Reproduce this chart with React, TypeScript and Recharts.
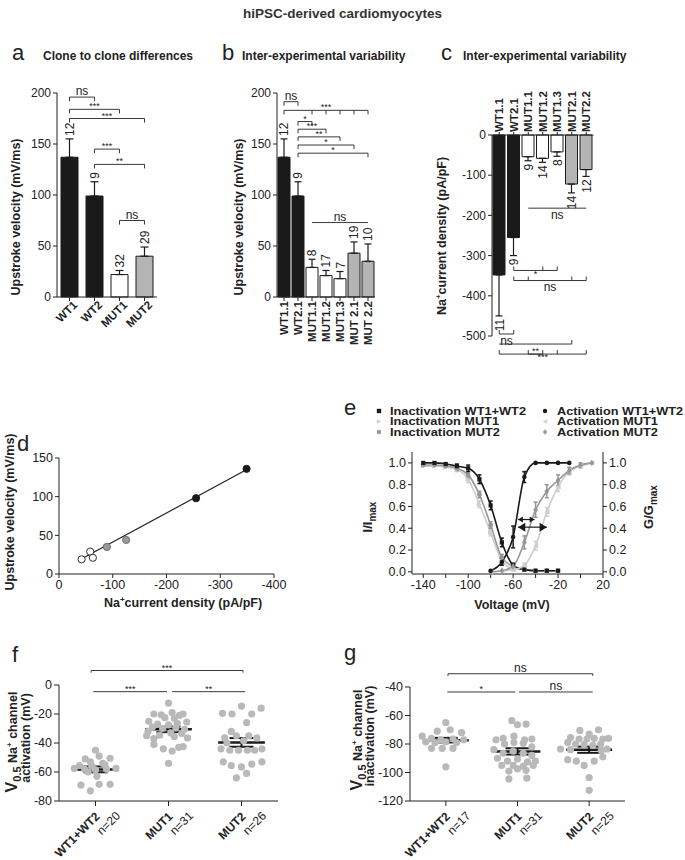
import React from 'react';
import {
  ComposedChart,
  Bar,
  Cell,
  ErrorBar,
  Line,
  Scatter,
  XAxis,
  YAxis,
  ReferenceLine,
} from 'recharts';

const FONT = '"Liberation Sans", Arial, Helvetica, sans-serif';
const INK = '#222222';
const BLACK = '#1a1a1a';
const GRAY = '#b4b4b4';
const LIGHT = '#cdcdcd';
const MID = '#969696';
const DOT = '#b9b9b9';

// a: clone to clone differences
const cloneNames = ['WT1', 'WT2', 'MUT1', 'MUT2'];
const cloneGroup = ['wt', 'wt', 'mut1', 'mut2'];
const cloneVel = [137, 99, 22, 40];
const cloneErr = [18, 14, 4, 9];
const cloneN = [12, 9, 32, 29];

// b + c: inter-experimental variability
const expNamesB = ['WT1.1', 'WT2.1', 'MUT1.1', 'MUT1.2', 'MUT1.3', 'MUT 2.1', 'MUT 2.2'];
const expNamesC = ['WT1.1', 'WT2.1', 'MUT1.1', 'MUT1.2', 'MUT1.3', 'MUT2.1', 'MUT2.2'];
const expGroup = ['wt', 'wt', 'mut1', 'mut1', 'mut1', 'mut2', 'mut2'];
const expVel = [137, 99, 29, 21, 18, 43, 35];
const expVelErr = [18, 14, 8, 5, 7, 11, 17];
const expVelN = [12, 9, 8, 17, 7, 19, 10];
const expIna = [-348, -255, -54, -58, -42, -122, -86];
const expInaErr = [102, 45, 10, 10, 11, 22, 17];
const expInaN = [11, 9, 9, 14, 8, 14, 12];

// d: correlation
const corrIna = [-349, -255, -58, -63, -42, -125, -89];
const corrVel = [136, 98, 29, 21, 19, 44, 35];
const fitIna = [-38, -352];
const fitVel = [18, 136];

// e: steady-state inactivation / activation
const volts = [-140, -130, -120, -110, -100, -90, -80, -70, -60, -50, -40, -30, -20, -10, 0, 10];
const inactWT = [1.0, 1.0, 0.99, 0.97, 0.95, 0.85, 0.61, 0.27, 0.06, 0.02, 0.01, 0.01, 0.01, null, null, null];
const inactMUT1 = [0.97, 0.97, 0.96, 0.94, 0.85, 0.62, 0.36, 0.1, 0.03, 0.02, 0.01, 0.01, 0.01, null, null, null];
const inactMUT2 = [0.98, 0.98, 0.97, 0.95, 0.89, 0.71, 0.43, 0.13, 0.05, 0.02, 0.01, 0.01, 0.01, null, null, null];
const actWT = [null, null, null, null, null, null, 0.01, 0.09, 0.32, 0.87, 1.0, 1.0, 1.0, 1.0, null, null];
const actMUT1 = [null, null, null, null, null, null, 0.0, 0.01, 0.02, 0.06, 0.24, 0.55, 0.78, 0.92, 0.97, 1.0];
const actMUT2 = [null, null, null, null, null, null, 0.0, 0.01, 0.05, 0.27, 0.57, 0.74, 0.84, 0.93, 0.98, 1.0];
const errInactWT = [0, 0, 0, 0.02, 0.03, 0.04, 0.04, 0.04, 0.02, 0, 0, 0, 0, 0, 0, 0];
const errInactMUT1 = [0, 0, 0, 0.02, 0.03, 0.03, 0.03, 0.03, 0.02, 0, 0, 0, 0, 0, 0, 0];
const errInactMUT2 = [0, 0, 0, 0.02, 0.03, 0.03, 0.03, 0.03, 0.02, 0, 0, 0, 0, 0, 0, 0];
const errActWT = [0, 0, 0, 0, 0, 0, 0, 0.03, 0.1, 0.05, 0, 0, 0, 0, 0, 0];
const errActMUT1 = [0, 0, 0, 0, 0, 0, 0, 0, 0.01, 0.02, 0.04, 0.04, 0.04, 0.03, 0.02, 0];
const errActMUT2 = [0, 0, 0, 0, 0, 0, 0, 0, 0.02, 0.06, 0.07, 0.06, 0.05, 0.03, 0.02, 0];
const voltTicks = [-140, -120, -100, -80, -60, -40, -20, 0, 20];
const voltLabels = [-140, -100, -60, -20, 20];
const shiftArrows = [
  { from: -55.6, to: -41, y: 0.48 },
  { from: -55.6, to: -30, y: 0.41 },
];

// f + g: V0.5 per cell, [jitter, value]
const groupNames = ['WT1+WT2', 'MUT1', 'MUT2'];
const actN = [20, 31, 26];
const inactN = [17, 31, 25];
const actWTCells = [[0.0, -45], [-0.14, -51], [0.05, -49], [0.2, -50.5], [-0.07, -53], [0.1, -54], [-0.22, -55.5], [-0.05, -56], [0.13, -55], [-0.29, -57.5], [-0.15, -58], [0.0, -58.5], [0.15, -58], [0.28, -57.5], [-0.1, -60], [0.02, -63], [-0.2, -69], [0.05, -68.5], [0.2, -68.5], [-0.07, -73]];
const actMUT1Cells = [[0.0, -12.5], [-0.2, -20], [-0.1, -20.5], [0.05, -19], [0.15, -21], [0.2, -20], [-0.05, -22.5], [0.08, -23], [-0.27, -25], [0.25, -25.5], [-0.15, -27], [0.0, -27.5], [0.12, -26.5], [-0.22, -29], [-0.08, -30], [0.1, -29.5], [0.22, -30.5], [-0.28, -32], [0.03, -33], [0.18, -33.5], [-0.12, -34.5], [0.08, -35.5], [-0.2, -37], [0.26, -36.5], [-0.2, -41], [0.2, -42.5], [-0.07, -44], [0.05, -45.5], [0.14, -43], [-0.3, -35], [0.0, -54]];
const actMUT2Cells = [[-0.26, -19.5], [-0.13, -20], [0.0, -14.5], [0.14, -20], [0.27, -16], [0.07, -26], [-0.14, -32], [-0.23, -36.5], [-0.07, -35], [0.1, -35], [0.21, -36.5], [0.03, -38.5], [-0.28, -44], [-0.16, -45], [-0.04, -45], [0.08, -45], [0.18, -45], [0.28, -44], [-0.25, -53], [-0.14, -55.5], [0.0, -56.5], [0.14, -54.5], [0.28, -53], [-0.07, -64], [0.07, -61], [-0.2, -40]];
const actMean = [-58.2, -30.6, -39.6];
const actSem = [2.0, 1.9, 3.0];
const inactWTCells = [[0.0, -65], [-0.12, -71], [0.06, -70], [0.22, -72], [-0.33, -74.5], [-0.2, -76], [-0.07, -77], [0.1, -76.5], [0.25, -77], [-0.28, -78.5], [-0.15, -79], [0.0, -78.5], [0.15, -79], [-0.2, -83], [-0.05, -83], [0.1, -83], [0.0, -96]];
const inactMUT1Cells = [[-0.08, -63.5], [0.0, -66.5], [0.12, -66], [-0.2, -76], [-0.05, -74.5], [0.1, -77], [0.2, -76.5], [-0.3, -77], [-0.18, -80], [-0.05, -79], [0.08, -79.5], [0.2, -82], [-0.33, -84], [-0.2, -86.5], [-0.06, -85], [0.08, -86.5], [0.2, -88], [-0.28, -90], [-0.14, -92], [0.0, -90.5], [0.14, -92.5], [0.25, -92], [-0.22, -95], [-0.06, -95], [0.08, -95.5], [0.22, -95], [-0.12, -99], [0.0, -97.5], [0.12, -98.5], [-0.12, -104.5], [0.13, -104]];
const inactMUT2Cells = [[-0.13, -70.5], [0.0, -73], [0.13, -70], [-0.26, -75.5], [-0.14, -76.5], [-0.03, -76.5], [0.07, -76], [0.19, -76.5], [0.27, -76], [-0.3, -79], [-0.19, -80], [-0.07, -80.5], [0.05, -81], [0.16, -80], [-0.4, -83.5], [-0.26, -84], [0.17, -84.5], [0.25, -83.5], [-0.3, -91], [-0.18, -92], [0.07, -92], [0.19, -89], [-0.07, -95], [0.0, -103.5], [0.0, -112.5]];
const inactMean = [-77.3, -85.2, -84.0];
const inactSem = [1.6, 2.2, 2.2];
const MEAN_HALF = 0.32;

// significance brackets (y in data units)
const bracketsA = [
  { from: 'WT1', to: 'WT2', y: 196, text: 'ns', drops: ['WT1', 'WT2'] },
  { from: 'WT1', to: 'MUT1', y: 184, text: '***', drops: ['WT1', 'MUT1'] },
  { from: 'WT1', to: 'MUT2', y: 175, text: '***', drops: ['WT1', 'MUT2'] },
  { from: 'WT2', to: 'MUT1', y: 145, text: '***', drops: ['WT2', 'MUT1'] },
  { from: 'WT2', to: 'MUT2', y: 130, text: '**', drops: ['WT2', 'MUT2'] },
  { from: 'MUT1', to: 'MUT2', y: 75, text: 'ns', drops: ['MUT1', 'MUT2'] },
];
const bracketsB = [
  { from: 'WT1.1', to: 'WT2.1', y: 191.5, text: 'ns', drops: ['WT1.1', 'WT2.1'] },
  { from: 'WT1.1', to: 'MUT 2.2', y: 183, text: '***', drops: ['WT1.1', 'MUT1.1', 'MUT1.2', 'MUT1.3', 'MUT 2.1', 'MUT 2.2'] },
  { from: 'WT2.1', to: 'MUT1.1', y: 172, text: '*', drops: ['WT2.1', 'MUT1.1'] },
  { from: 'WT2.1', to: 'MUT1.2', y: 164.5, text: '***', drops: ['WT2.1', 'MUT1.2'] },
  { from: 'WT2.1', to: 'MUT1.3', y: 157, text: '**', drops: ['WT2.1', 'MUT1.3'] },
  { from: 'WT2.1', to: 'MUT 2.1', y: 149, text: '*', drops: ['WT2.1', 'MUT 2.1'] },
  { from: 'WT2.1', to: 'MUT 2.2', y: 141, text: '*', drops: ['WT2.1', 'MUT 2.2'] },
  { from: 'MUT1.1', to: 'MUT 2.2', y: 73, text: 'ns', drops: [] },
];
const bracketsC = [
  { from: 'MUT1.1', to: 'MUT2.2', y: -182, text: 'ns', below: true, drops: [] },
  { from: 'WT2.1', to: 'MUT1.3', y: -337, text: '*', below: true, drops: ['WT2.1', 'MUT1.2', 'MUT1.3'] },
  { from: 'WT2.1', to: 'MUT2.2', y: -362, text: 'ns', below: true, drops: ['WT2.1', 'MUT1.1', 'MUT2.1', 'MUT2.2'] },
  { from: 'WT1.1', to: 'WT2.1', y: -495, text: 'ns', below: true, drops: ['WT1.1', 'WT2.1'] },
  { from: 'WT1.1', to: 'MUT2.1', y: -520, text: '', drops: ['MUT2.1'] },
  { from: 'WT1.1', to: 'MUT2.2', y: -545, text: '***', below: true, drops: ['WT1.1', 'MUT1.1', 'MUT1.2', 'MUT1.3', 'MUT2.2'] },
  { from: 'MUT1.1', to: 'MUT1.2', y: -545, text: '**', drops: [] },
];
const bracketsF = [
  { from: 0.94, to: 3.02, y: 10, text: '***', drops: [0.94, 3.02] },
  { from: 0.97, to: 1.98, y: -4.6, text: '***', drops: [] },
  { from: 2.05, to: 3.05, y: -4.6, text: '**', drops: [] },
];
const bracketsG = [
  { from: 1.03, to: 3.05, y: -30.7, text: 'ns', drops: [1.03, 3.05] },
  { from: 1.02, to: 1.97, y: -43.5, text: '*', drops: [] },
  { from: 2.02, to: 3.05, y: -43.5, text: 'ns', drops: [] },
];

const FILL: Record<string, string> = { wt: BLACK, mut1: '#ffffff', mut2: GRAY };

const cloneRows = cloneNames.map((name, i) => ({
  name, v: cloneVel[i], err: [0, cloneErr[i]], top: cloneVel[i] + cloneErr[i], n: cloneN[i], g: cloneGroup[i],
}));
const velRows = expNamesB.map((name, i) => ({
  name, v: expVel[i], err: [0, expVelErr[i]], top: expVel[i] + expVelErr[i], n: expVelN[i], g: expGroup[i],
}));
const inaRows = expNamesC.map((name, i) => ({
  name, v: expIna[i], err: [expInaErr[i], 0], top: expIna[i] - expInaErr[i], n: expInaN[i], g: expGroup[i],
}));
const corrRows = corrIna.map((x, i) => ({ x, y: corrVel[i], g: expGroup[i] }));
const fitRows = fitIna.map((x, i) => ({ x, y: fitVel[i] }));
const curveRows = volts.map((v, i) => ({
  v,
  iWT: inactWT[i], iM1: inactMUT1[i], iM2: inactMUT2[i],
  aWT: actWT[i], aM1: actMUT1[i], aM2: actMUT2[i],
  eiWT: errInactWT[i], eiM1: errInactMUT1[i], eiM2: errInactMUT2[i],
  eaWT: errActWT[i], eaM1: errActMUT1[i], eaM2: errActMUT2[i],
}));

const cellRows = (groups: number[][][]) =>
  groups.flatMap((cells, gi) => cells.map(([j, y]) => ({ x: gi + 1 + j, y })));
const meanRows = (means: number[], sems: number[]) =>
  means.map((y, i) => ({ x: i + 1, y, sem: sems[i], half: MEAN_HALF }));

const actCells = cellRows([actWTCells, actMUT1Cells, actMUT2Cells]);
const inactCells = cellRows([inactWTCells, inactMUT1Cells, inactMUT2Cells]);

// ---------- helpers
function bracket(b: any, key: string, drop: number) {
  const stars = b.text.startsWith('*');
  const out = [
    <ReferenceLine
      key={key}
      ifOverflow="visible"
      stroke={INK}
      strokeWidth={0.9}
      segment={[{ x: b.from, y: b.y }, { x: b.to, y: b.y }]}
      label={
        b.text
          ? { value: b.text, position: b.below ? 'bottom' : 'top', fill: INK, fontSize: stars ? 9 : 12, offset: stars ? 0 : 2 }
          : undefined
      }
    />,
  ];
  (b.drops || []).forEach((d: any, i: number) =>
    out.push(
      <ReferenceLine
        key={key + 'd' + i}
        ifOverflow="visible"
        stroke={INK}
        strokeWidth={0.9}
        segment={[{ x: d, y: b.y }, { x: d, y: b.y + drop }]}
      />,
    ),
  );
  return out;
}

const vTitle = (x: number, y: number, size: number, body: React.ReactNode) => () => (
  <text x={x} y={y} transform={`rotate(-90 ${x} ${y})`} textAnchor="middle" fontSize={size} fontWeight="bold" fill={INK}>
    {body}
  </text>
);
const hTitle = (x: number, y: number, size: number, body: React.ReactNode) => () => (
  <text x={x} y={y} textAnchor="middle" fontSize={size} fontWeight="bold" fill={INK}>
    {body}
  </text>
);

const naBody = (
  <>
    Na<tspan dy={-5} fontSize={8}>+</tspan>
    <tspan dy={5}>current density (pA/pF)</tspan>
  </>
);
const v05Body = (
  <>
    <tspan fontSize={16}>V</tspan>
    <tspan fontSize={11} dy={4}>0.5</tspan>
    <tspan dy={-4}> Na</tspan>
    <tspan fontSize={8} dy={-5}>+</tspan>
    <tspan dy={5}> channel</tspan>
  </>
);
const v05Title = (x1: number, x2: number, y: number, line2: string) => () => (
  <g>
    <text x={x1} y={y} transform={`rotate(-90 ${x1} ${y})`} textAnchor="middle" fontSize={12.5} fontWeight="bold" fill={INK}>
      {v05Body}
    </text>
    <text x={x2} y={y - 4} transform={`rotate(-90 ${x2} ${y - 4})`} textAnchor="middle" fontSize={12.5} fontWeight="bold" fill={INK}>
      {line2}
    </text>
  </g>
);

const tiltTick = (p: any) => (
  <g transform={`translate(${p.x},${p.y}) rotate(-45)`}>
    <text x={4} y={8} textAnchor="end" fontSize={11.5} fontWeight="bold" fill={INK}>
      {p.payload.value}
    </text>
  </g>
);
const downTick = (p: any) => {
  const x = p.x + 4;
  const y = p.y - 2;
  return (
    <text x={x} y={y} transform={`rotate(-90 ${x} ${y})`} textAnchor="end" fontSize={11.5} fontWeight="bold" fill={INK}>
      {p.payload.value}
    </text>
  );
};
const upTick = (p: any) => {
  const x = p.x + 4;
  const y = p.y + 2;
  return (
    <text x={x} y={y} transform={`rotate(-90 ${x} ${y})`} textAnchor="start" fontSize={11.5} fontWeight="bold" fill={INK}>
      {p.payload.value}
    </text>
  );
};
const groupTick = (ns: number[]) => (p: any) => {
  const i = p.payload.value - 1;
  return (
    <g transform={`translate(${p.x},${p.y}) rotate(-45)`}>
      <text x={-3} y={10} textAnchor="end" fontSize={12} fontWeight="bold" fill={INK}>
        {groupNames[i]}
      </text>
      <text x={12} y={24} textAnchor="end" fontSize={12} fill={INK}>
        n={ns[i]}
      </text>
    </g>
  );
};

const nAbove = (p: any) => {
  if (p.cx == null || p.cy == null) return <g key={p.index} />;
  const x = p.cx + 4.5;
  const y = p.cy - 3;
  return (
    <text key={p.index} x={x} y={y} transform={`rotate(-90 ${x} ${y})`} fontSize={12} fill={INK}>
      {p.payload.n}
    </text>
  );
};
const nBelow = (p: any) => {
  if (p.cx == null || p.cy == null) return <g key={p.index} />;
  const x = p.cx + 4.5;
  const y = p.cy + 3;
  return (
    <text key={p.index} x={x} y={y} transform={`rotate(-90 ${x} ${y})`} textAnchor="end" fontSize={12} fill={INK}>
      {p.payload.n}
    </text>
  );
};

function drawMarker(shape: string, cx: any, cy: any, fill: string, s: number, key: any) {
  if (cx == null || cy == null || Number.isNaN(cx) || Number.isNaN(cy)) return <g key={key} />;
  switch (shape) {
    case 'square':
      return <rect key={key} x={cx - s} y={cy - s} width={2 * s} height={2 * s} fill={fill} />;
    case 'triR':
      return <polygon key={key} points={`${cx - s},${cy - s} ${cx + s},${cy} ${cx - s},${cy + s}`} fill={fill} />;
    case 'triL':
      return <polygon key={key} points={`${cx + s},${cy - s} ${cx - s},${cy} ${cx + s},${cy + s}`} fill={fill} />;
    case 'diamond':
      return <polygon key={key} points={`${cx},${cy - s * 1.3} ${cx + s},${cy} ${cx},${cy + s * 1.3} ${cx - s},${cy}`} fill={fill} />;
    default:
      return <circle key={key} cx={cx} cy={cy} r={s} fill={fill} />;
  }
}
const curveDot = (shape: string, fill: string, s: number) => (p: any) =>
  p.value == null ? <g key={p.index} /> : drawMarker(shape, p.cx, p.cy, fill, s, p.index);

const corrDot = (p: any) => {
  const g = p.payload.g;
  const fill = g === 'wt' ? BLACK : g === 'mut2' ? '#9a9a9a' : '#ffffff';
  return <circle cx={p.cx} cy={p.cy} r={3.6} fill={fill} stroke={g === 'mut2' ? '#666' : BLACK} strokeWidth={0.9} />;
};
const cellDot = (p: any) => <circle cx={p.cx} cy={p.cy} r={3.6} fill={DOT} />;
const noShape = () => <g />;

const arrowShape = (head: number) => (p: any) => {
  const { x1, y1, x2, y2 } = p;
  return (
    <g>
      <line x1={x1} y1={y1} x2={x2} y2={y2} stroke={BLACK} strokeWidth={1.2} />
      <polygon points={`${x1},${y1} ${x1 + head * 1.6},${y1 - head} ${x1 + head * 1.6},${y1 + head}`} fill={BLACK} />
      <polygon points={`${x2},${y2} ${x2 - head * 1.6},${y2 - head} ${x2 - head * 1.6},${y2 + head}`} fill={BLACK} />
    </g>
  );
};

const tickFont = { fill: INK, fontSize: 12 };

// ---------- panels
function PanelA() {
  return (
    <ComposedChart width={175} height={280} data={cloneRows} margin={{ top: 33, right: 18, bottom: 3, left: 0 }}>
      <XAxis dataKey="name" interval={0} height={40} stroke={INK} tickSize={4} tick={tiltTick} />
      <YAxis domain={[0, 200]} ticks={[0, 50, 100, 150, 200]} width={57} stroke={INK} tickSize={4} tick={tickFont}
        label={vTitle(19.5, 157, 12.5, 'Upstroke velocity (mV/ms)')} />
      <Bar dataKey="v" barSize={17} stroke={BLACK} strokeWidth={1} isAnimationActive={false}>
        {cloneRows.map((r, i) => <Cell key={i} fill={FILL[r.g]} />)}
        <ErrorBar dataKey="err" width={4} stroke={BLACK} strokeWidth={1.2} direction="y" />
      </Bar>
      <Line dataKey="top" stroke="none" dot={nAbove} activeDot={false} isAnimationActive={false} />
      {bracketsA.flatMap((b, i) => bracket(b, 'a' + i, -4))}
    </ComposedChart>
  );
}

function PanelB() {
  return (
    <ComposedChart width={165} height={300} data={velRows} margin={{ top: 33, right: 10, bottom: 8, left: 0 }}>
      <XAxis dataKey="name" interval={0} height={55} stroke={INK} tickSize={4} tick={downTick} />
      <YAxis domain={[0, 200]} ticks={[0, 50, 100, 150, 200]} width={57} stroke={INK} tickSize={4} tick={tickFont}
        label={vTitle(22.5, 157, 12.5, 'Upstroke velocity (mV/ms)')} />
      <Bar dataKey="v" barSize={12} stroke={BLACK} strokeWidth={1} isAnimationActive={false}>
        {velRows.map((r, i) => <Cell key={i} fill={FILL[r.g]} />)}
        <ErrorBar dataKey="err" width={3.5} stroke={BLACK} strokeWidth={1.2} direction="y" />
      </Bar>
      <Line dataKey="top" stroke="none" dot={nAbove} activeDot={false} isAnimationActive={false} />
      {bracketsB.flatMap((b, i) => bracket(b, 'b' + i, -4))}
    </ComposedChart>
  );
}

function PanelC() {
  return (
    <ComposedChart width={180} height={320} data={inaRows} margin={{ top: 25, right: 16.5, bottom: 44, left: 0 }}>
      <XAxis dataKey="name" orientation="top" interval={0} height={50} stroke={INK} tickSize={3} tick={upTick} />
      <YAxis domain={[-500, 0]} ticks={[-500, -400, -300, -200, -100, 0]} width={62} stroke={INK} tickSize={4} tick={tickFont}
        label={vTitle(15.5, 176, 12.5, naBody)} />
      <Bar dataKey="v" barSize={12} stroke={BLACK} strokeWidth={1} isAnimationActive={false}>
        {inaRows.map((r, i) => <Cell key={i} fill={FILL[r.g]} />)}
        <ErrorBar dataKey="err" width={3.5} stroke={BLACK} strokeWidth={1.2} direction="y" />
      </Bar>
      <Line dataKey="top" stroke="none" dot={nBelow} activeDot={false} isAnimationActive={false} />
      {bracketsC.flatMap((b, i) => bracket(b, 'c' + i, 10))}
    </ComposedChart>
  );
}

function PanelD() {
  return (
    <ComposedChart width={290} height={200} margin={{ top: 38, right: 16, bottom: 18, left: 0 }}>
      <XAxis type="number" dataKey="x" domain={[-400, 0]} ticks={[0, -100, -200, -300, -400]} reversed height={28}
        stroke={INK} tickSize={4} tick={{ fill: INK, fontSize: 12.5 }} label={hTitle(183, 187, 12.5, naBody)} />
      <YAxis type="number" dataKey="y" domain={[0, 150]} ticks={[0, 50, 100, 150]} width={59} stroke={INK} tickSize={4}
        tick={{ fill: INK, fontSize: 12.5 }} label={vTitle(14, 92, 12.5, 'Upstroke velocity (mV/ms)')} />
      <Scatter data={fitRows} line={{ stroke: INK, strokeWidth: 1.2 }} shape={noShape} isAnimationActive={false} />
      <Scatter data={corrRows} shape={corrDot} isAnimationActive={false} />
    </ComposedChart>
  );
}

function PanelE() {
  const eFont = { fill: INK, fontSize: 12.5 };
  return (
    <ComposedChart width={330} height={180} data={curveRows} margin={{ top: 12, right: 7, bottom: 21, left: 0 }}>
      <XAxis type="number" dataKey="v" domain={[-150, 20]} ticks={voltTicks} height={25} stroke={INK} tickSize={4}
        tick={eFont} tickFormatter={(v: number) => (voltLabels.includes(v) ? String(v) : '')}
        label={hTitle(172, 169, 12.5, 'Voltage (mV)')} />
      <YAxis yAxisId="l" domain={[-0.02, 1.1]} ticks={[0, 0.2, 0.4, 0.6, 0.8, 1]} width={72} stroke={INK} tickSize={4}
        tick={eFont} tickFormatter={(v: number) => v.toFixed(1)}
        label={vTitle(32, 77, 13, <>I/I<tspan dy={4} fontSize={10}>max</tspan></>)} />
      <YAxis yAxisId="r" orientation="right" domain={[-0.02, 1.1]} ticks={[0, 0.2, 0.4, 0.6, 0.8, 1]} width={60} stroke={INK}
        tickSize={4} tick={eFont} tickFormatter={(v: number) => v.toFixed(1)}
        label={vTitle(313, 67, 13, <>G/G<tspan dy={4} fontSize={10}>max</tspan></>)} />
      <Line yAxisId="l" type="monotone" dataKey="iM1" stroke={LIGHT} strokeWidth={1.6} dot={curveDot('triR', LIGHT, 2.6)} activeDot={false} isAnimationActive={false}>
        <ErrorBar dataKey="eiM1" width={2} stroke={LIGHT} direction="y" />
      </Line>
      <Line yAxisId="l" type="monotone" dataKey="iM2" stroke={MID} strokeWidth={1.6} dot={curveDot('circle', MID, 2.4)} activeDot={false} isAnimationActive={false}>
        <ErrorBar dataKey="eiM2" width={2} stroke={MID} direction="y" />
      </Line>
      <Line yAxisId="l" type="monotone" dataKey="iWT" stroke={BLACK} strokeWidth={1.6} dot={curveDot('square', BLACK, 2.1)} activeDot={false} isAnimationActive={false}>
        <ErrorBar dataKey="eiWT" width={2} stroke={BLACK} direction="y" />
      </Line>
      <Line yAxisId="r" type="monotone" dataKey="aM1" stroke={LIGHT} strokeWidth={1.6} dot={curveDot('triL', LIGHT, 2.6)} activeDot={false} isAnimationActive={false}>
        <ErrorBar dataKey="eaM1" width={2} stroke={LIGHT} direction="y" />
      </Line>
      <Line yAxisId="r" type="monotone" dataKey="aM2" stroke={MID} strokeWidth={1.6} dot={curveDot('diamond', MID, 2.4)} activeDot={false} isAnimationActive={false}>
        <ErrorBar dataKey="eaM2" width={2} stroke={MID} direction="y" />
      </Line>
      <Line yAxisId="r" type="monotone" dataKey="aWT" stroke={BLACK} strokeWidth={1.6} dot={curveDot('circle', BLACK, 2.3)} activeDot={false} isAnimationActive={false}>
        <ErrorBar dataKey="eaWT" width={2} stroke={BLACK} direction="y" />
      </Line>
      {shiftArrows.map((a, i) => (
        <ReferenceLine key={'arr' + i} yAxisId="l" ifOverflow="visible" segment={[{ x: a.from, y: a.y }, { x: a.to, y: a.y }]}
          shape={arrowShape(i === 0 ? 3 : 4.5)} />
      ))}
    </ComposedChart>
  );
}

function DotPanel(props: any) {
  const { cells, means, sems, ns, domain, ticks, brackets, yAxisWidth, margin, title } = props;
  return (
    <ComposedChart width={300} height={220} margin={margin}>
      <XAxis type="number" dataKey="x" domain={[0.5, 3.5]} ticks={[1, 2, 3]} height={55} stroke={INK} tickSize={5}
        tick={groupTick(ns)} />
      <YAxis type="number" dataKey="y" domain={domain} ticks={ticks} width={yAxisWidth} stroke={INK} tickSize={5}
        tick={{ fill: INK, fontSize: 12.5 }} label={title} />
      <Scatter data={cells} shape={cellDot} isAnimationActive={false} />
      <Scatter data={meanRows(means, sems)} shape={noShape} isAnimationActive={false}>
        <ErrorBar dataKey="half" direction="x" width={0} stroke={BLACK} strokeWidth={2.5} />
        <ErrorBar dataKey="sem" direction="y" width={12} stroke={BLACK} strokeWidth={2} />
      </Scatter>
      {brackets.flatMap((b: any, i: number) => bracket(b, 'br' + i, -1.5))}
    </ComposedChart>
  );
}

const legendLeft = [
  { shape: 'square', fill: BLACK, text: 'Inactivation WT1+WT2', w: 136 },
  { shape: 'triR', fill: LIGHT, text: 'Inactivation MUT1', w: 109 },
  { shape: 'circle', fill: MID, text: 'Inactivation MUT2', w: 110 },
];
const legendRight = [
  { shape: 'circle', fill: BLACK, text: 'Activation WT1+WT2', w: 126 },
  { shape: 'triL', fill: LIGHT, text: 'Activation MUT1', w: 101 },
  { shape: 'diamond', fill: MID, text: 'Activation MUT2', w: 101 },
];

export default function App() {
  return (
    <div style={{ position: 'absolute', left: 0, top: 0, width: 685, height: 860, background: '#fff', fontFamily: FONT, overflow: 'hidden' }}>
      <div style={{ position: 'absolute', left: 0, top: 60 }}><PanelA /></div>
      <div style={{ position: 'absolute', left: 220, top: 60 }}><PanelB /></div>
      <div style={{ position: 'absolute', left: 430, top: 60 }}><PanelC /></div>
      <div style={{ position: 'absolute', left: 0, top: 420 }}><PanelD /></div>
      <div style={{ position: 'absolute', left: 340, top: 440 }}><PanelE /></div>
      <div style={{ position: 'absolute', left: 0, top: 640 }}>
        <DotPanel cells={actCells} means={actMean} sems={actSem} ns={actN} domain={[-80, 0]} ticks={[-80, -60, -40, -20, 0]}
          brackets={bracketsF} yAxisWidth={59} margin={{ top: 45, right: 22, bottom: 4, left: 0 }}
          title={v05Title(17, 30, 102, 'activation (mV)')} />
      </div>
      <div style={{ position: 'absolute', left: 340, top: 640 }}>
        <DotPanel cells={inactCells} means={inactMean} sems={inactSem} ns={inactN} domain={[-120, -40]}
          ticks={[-120, -100, -80, -60, -40]} brackets={bracketsG} yAxisWidth={70}
          margin={{ top: 47, right: 15, bottom: 4, left: 0 }} title={v05Title(22, 34, 100, 'inactivation (mV)')} />
      </div>
      <svg width={685} height={860} style={{ position: 'absolute', left: 0, top: 0, pointerEvents: 'none' }}>
        <text x={342.5} y={18} textAnchor="middle" fontSize={13.5} fontWeight="bold" fill="#333">hiPSC-derived cardiomyocytes</text>
        <g fontSize={22} fill={INK}>
          <text x={12} y={60}>a</text>
          <text x={222} y={60}>b</text>
          <text x={441} y={60}>c</text>
          <text x={17} y={451}>d</text>
          <text x={344} y={415}>e</text>
          <text x={12} y={662}>f</text>
          <text x={344} y={660}>g</text>
        </g>
        <g fontSize={12} fontWeight="bold" fill={INK}>
          <text x={43} y={60}>Clone to clone differences</text>
          <text x={242} y={60}>Inter-experimental variability</text>
          <text x={463} y={60}>Inter-experimental variability</text>
        </g>
        <g fontSize={10} fontWeight="bold" fill={INK}>
          {legendLeft.map((l, i) => (
            <g key={'ll' + i}>
              {drawMarker(l.shape, 379, 411 + i * 10.5, l.fill, 2.2, 'm')}
              <text x={390} y={414.5 + i * 10.5} textLength={l.w} lengthAdjust="spacingAndGlyphs">{l.text}</text>
            </g>
          ))}
          {legendRight.map((l, i) => (
            <g key={'lr' + i}>
              {drawMarker(l.shape, 545, 411 + i * 10.5, l.fill, 2.2, 'm')}
              <text x={557} y={414.5 + i * 10.5} textLength={l.w} lengthAdjust="spacingAndGlyphs">{l.text}</text>
            </g>
          ))}
        </g>
      </svg>
    </div>
  );
}
